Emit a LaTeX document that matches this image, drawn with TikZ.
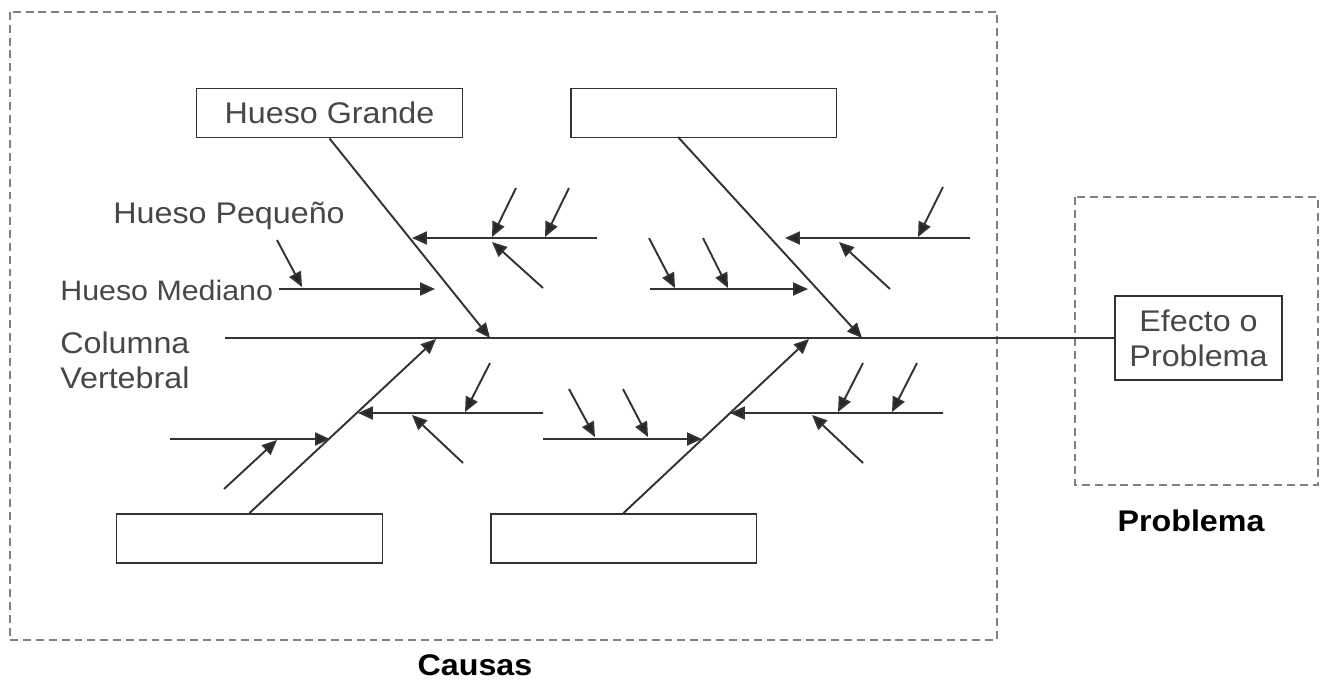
\documentclass[tikz,border=0pt]{standalone}
\usepackage{fontspec}
\setmainfont[FakeStretch=1.08]{Liberation Sans}
\usetikzlibrary{arrows.meta}
\definecolor{inkgray}{HTML}{333333}
\definecolor{txtgray}{HTML}{474747}
\tikzset{
    line/.style={draw=inkgray, line width=1.1pt},
    bone/.style={line, -{Triangle[length=8.5pt,width=7.4pt,fill=black!85]}},
    box/.style={draw=inkgray, line width=1.1pt, minimum width=5.32cm, minimum height=0.98cm, inner sep=0pt},
    dbox/.style={draw=gray, line width=1pt, dash pattern=on 4.5pt off 2.8pt},
    lbl/.style={text=txtgray, font=\fontsize{17}{20}\selectfont, inner sep=0pt},
    titulo/.style={font=\fontsize{17}{20}\selectfont\bfseries, inner sep=0pt}
}

\begin{document}
\begin{tikzpicture}[x=0.02cm, y=-0.02cm]
    \useasboundingbox (0,0) rectangle (1327,681);
    \draw[dbox] (10,12) rectangle (997,640);
    \draw[dbox] (1075,197) rectangle (1318,485);

    \node[titulo] at (475,665)       (causas)   {Causas};
    \node[titulo] at (1191,521)      (problema) {Problema};

    \node[box, lbl] at (329.5,113)   (hg)  {\raisebox{-2.3pt}{Hueso Grande}};
    \node[box] at (703.5,113)        (hg2) {};
    \node[box] at (249.5,538.5)      (hg3) {};
    \node[box] at (623.5,538.5)      (hg4) {};
    \node[draw=inkgray, line width=1.1pt, lbl, minimum width=3.34cm, minimum height=1.68cm, align=center]
        at (1198.5,338) (efecto) {Efecto o\\Problema};

    \node[lbl, anchor=west] at (113,216) (hp)  {Hueso Pequeño};
    \node[lbl, anchor=west, font=\fontsize{16}{20}\selectfont] at (60,290)  (hm)  {Hueso Mediano};
    \node[lbl, anchor=west, align=left] at (60,360) (cv) {Columna\\Vertebral};

    \coordinate (col) at (225,338);
    \draw[line] (col) -- (efecto);

    \coordinate (tl)  at (490,338);
    \coordinate (tla) at (597,238);  \coordinate (tlb) at (412,238);
    \coordinate (tl1) at (516,188);  \coordinate (tl2) at (492,237);
    \coordinate (tl3) at (569,188);  \coordinate (tl4) at (545,237);
    \coordinate (tl5) at (543,288);  \coordinate (tl6) at (492,242);
    \coordinate (tlc) at (279,289);  \coordinate (tld) at (435,289);
    \coordinate (tl7) at (277,240);  \coordinate (tl8) at (302,287);
    \draw[bone] (hg.south) -- (tl);
    \draw[bone] (tla) -- (tlb);
    \draw[bone] (tl1) -- (tl2);
    \draw[bone] (tl3) -- (tl4);
    \draw[bone] (tl5) -- (tl6);
    \draw[bone] (tlc) -- (tld);
    \draw[bone] (tl7) -- (tl8);

    \coordinate (tr0) at (678,137);  \coordinate (tr)  at (862,338);
    \coordinate (tra) at (970,238);  \coordinate (trb) at (785,238);
    \coordinate (tr1) at (943,187);  \coordinate (tr2) at (918,237);
    \coordinate (tr3) at (890,289);  \coordinate (tr4) at (839,242);
    \coordinate (trc) at (650,289);  \coordinate (trd) at (808,289);
    \coordinate (tr5) at (649,238);  \coordinate (tr6) at (675,288);
    \coordinate (tr7) at (703,238);  \coordinate (tr8) at (728,288);
    \draw[bone] (tr0) -- (tr);
    \draw[bone] (tra) -- (trb);
    \draw[bone] (tr1) -- (tr2);
    \draw[bone] (tr3) -- (tr4);
    \draw[bone] (trc) -- (trd);
    \draw[bone] (tr5) -- (tr6);
    \draw[bone] (tr7) -- (tr8);

    \coordinate (bl)  at (436,339);
    \coordinate (bla) at (543,413);  \coordinate (blb) at (358,413);
    \coordinate (bl1) at (490,363);  \coordinate (bl2) at (465,412);
    \coordinate (bl3) at (463,463);  \coordinate (bl4) at (412,415);
    \coordinate (blc) at (170,439);  \coordinate (bld) at (330,439);
    \coordinate (bl5) at (224,489);  \coordinate (bl6) at (277,440);
    \draw[bone] (hg3.north) -- (bl);
    \draw[bone] (bla) -- (blb);
    \draw[bone] (bl1) -- (bl2);
    \draw[bone] (bl3) -- (bl4);
    \draw[bone] (blc) -- (bld);
    \draw[bone] (bl5) -- (bl6);

    \coordinate (br)  at (809,339);
    \coordinate (bra) at (943,413);  \coordinate (brb) at (730,413);
    \coordinate (br1) at (863,363);  \coordinate (br2) at (838,412);
    \coordinate (br3) at (917,363);  \coordinate (br4) at (892,412);
    \coordinate (br5) at (863,463);  \coordinate (br6) at (812,415);
    \coordinate (brc) at (543,439);  \coordinate (brd) at (702,439);
    \coordinate (br7) at (569,389);  \coordinate (br8) at (595,437);
    \coordinate (br9) at (623,389);  \coordinate (br10) at (648,437);
    \draw[bone] (hg4.north) -- (br);
    \draw[bone] (bra) -- (brb);
    \draw[bone] (br1) -- (br2);
    \draw[bone] (br3) -- (br4);
    \draw[bone] (br5) -- (br6);
    \draw[bone] (brc) -- (brd);
    \draw[bone] (br7) -- (br8);
    \draw[bone] (br9) -- (br10);
\end{tikzpicture}
\end{document}
